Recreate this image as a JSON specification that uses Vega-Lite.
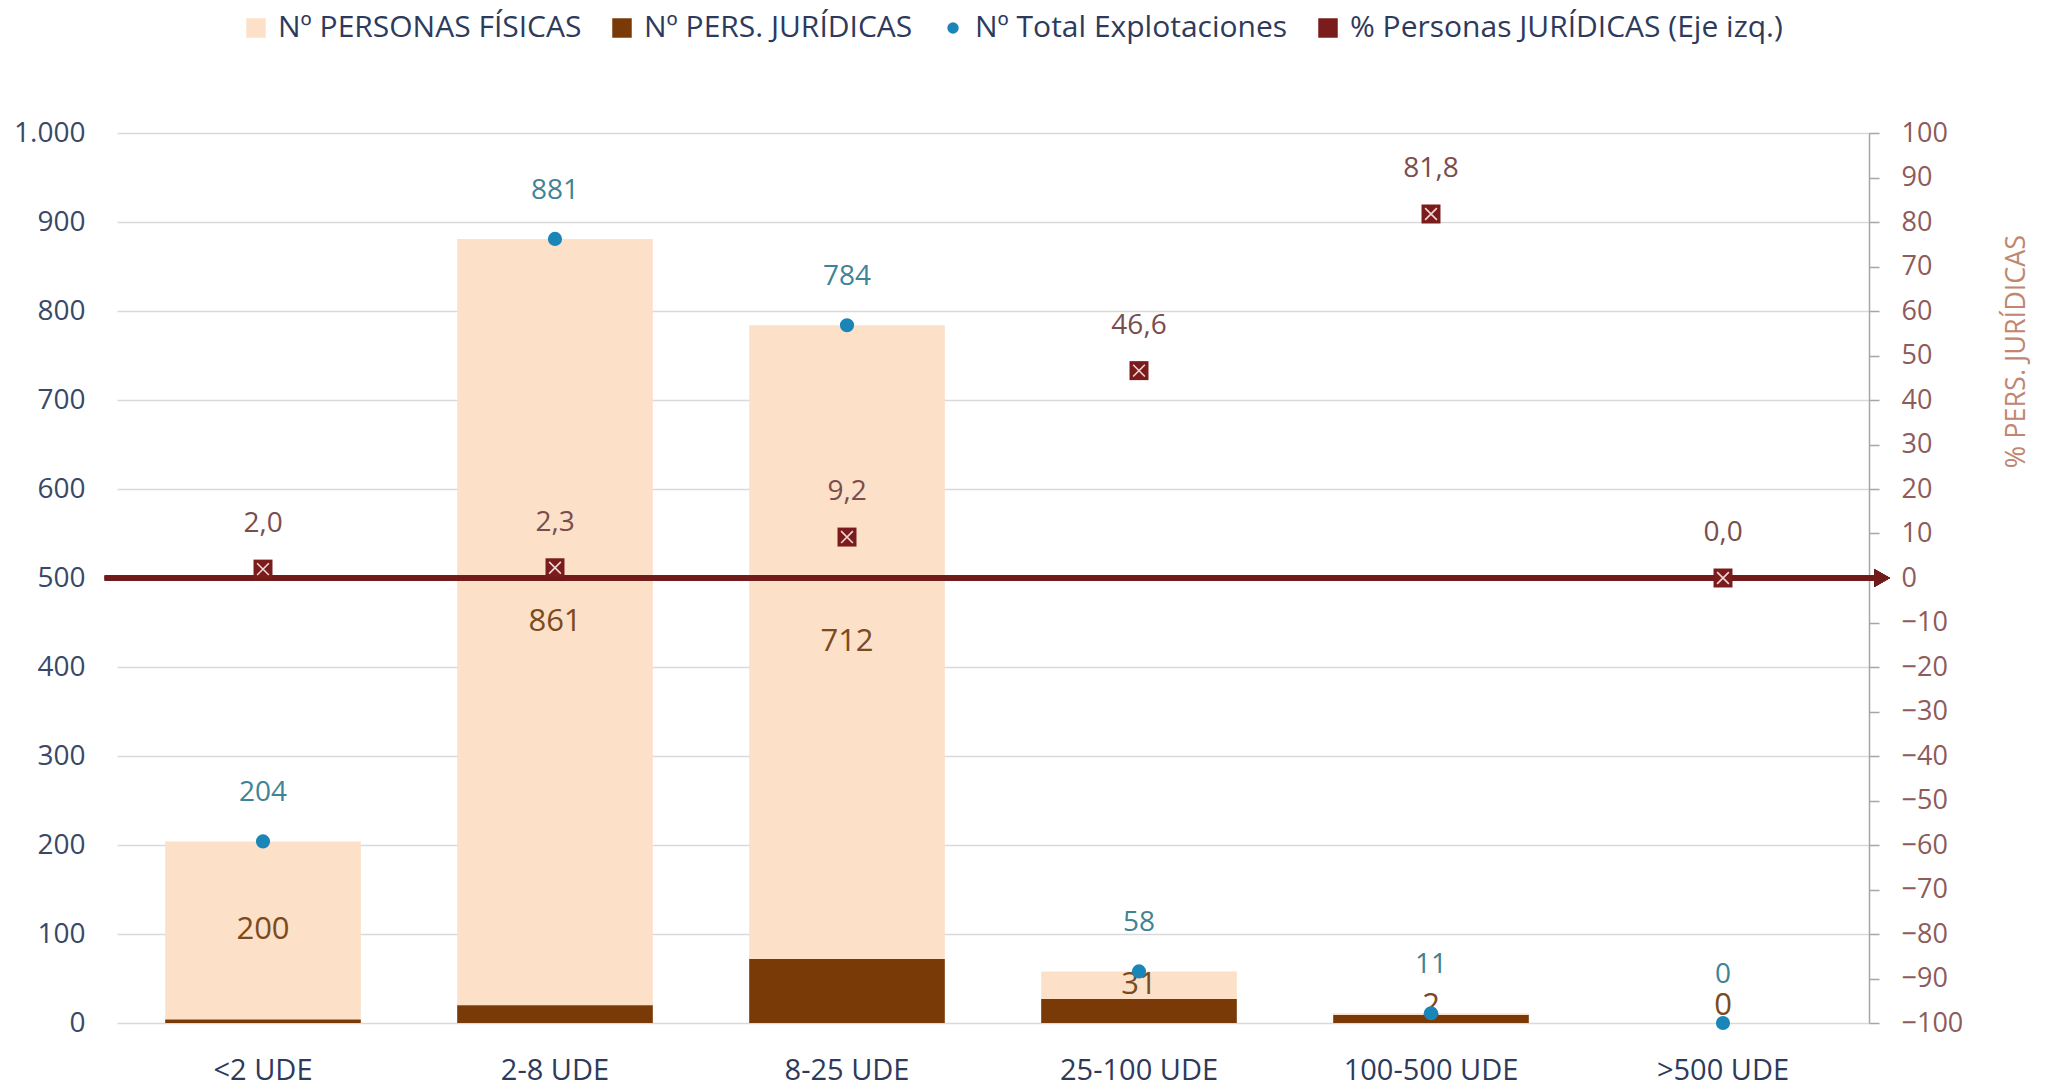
{
  "$schema": "https://vega.github.io/schema/vega-lite/v6.json",
  "width": 1752,
  "height": 890,
  "autosize": {"type": "none"},
  "padding": {"left": 117, "top": 133, "right": 187, "bottom": 64},
  "background": "white",
  "config": {
    "font": "Open Sans",
    "view": {"stroke": null},
    "locale": {
      "number": {"decimal": ",", "thousands": ".", "grouping": [3], "currency": ["", " €"]}
    }
  },
  "data": {
    "values": [
      {"cat": "<2 UDE", "fisicas": 200, "juridicas": 4, "total": 204, "pct": 2.0},
      {"cat": "2-8 UDE", "fisicas": 861, "juridicas": 20, "total": 881, "pct": 2.3},
      {"cat": "8-25 UDE", "fisicas": 712, "juridicas": 72, "total": 784, "pct": 9.2},
      {"cat": "25-100 UDE", "fisicas": 31, "juridicas": 27, "total": 58, "pct": 46.6},
      {"cat": "100-500 UDE", "fisicas": 2, "juridicas": 9, "total": 11, "pct": 81.8},
      {"cat": ">500 UDE", "fisicas": 0, "juridicas": 0, "total": 0, "pct": 0.0}
    ]
  },
  "layer": [
    {
      "encoding": {
        "x": {
          "field": "cat", "type": "nominal", "sort": null,
          "scale": {"paddingInner": 0.33, "paddingOuter": 0.165},
          "axis": {
            "title": null, "domain": false, "ticks": false, "labelAngle": 0,
            "labelFontSize": 29, "labelColor": "#2e3a5c", "labelPadding": 33, "grid": false
          }
        }
      },
      "layer": [
        {
          "mark": {"type": "bar"},
          "encoding": {
            "y": {
              "field": "total", "type": "quantitative",
              "scale": {"domain": [0, 1000]},
              "axis": {
                "title": null, "values": [0,100,200,300,400,500,600,700,800,900,1000],
                "format": ",d", "domain": false, "ticks": false, "labelPadding": 32,
                "labelFontSize": 28, "labelColor": "#3a4868",
                "grid": true, "gridColor": "#d9d9d9", "gridWidth": 1.6
              }
            },
            "y2": {"field": "juridicas"},
            "color": {
              "datum": "Nº PERSONAS FÍSICAS",
              "scale": {
                "domain": ["Nº PERSONAS FÍSICAS", "Nº PERS. JURÍDICAS", "Nº Total Explotaciones", "% Personas JURÍDICAS (Eje izq.)"],
                "range": ["#fce0c8", "#7a3a08", "#1a86b8", "#7b1c1c"]
              },
              "legend": {
                "title": null, "orient": "none", "direction": "horizontal",
                "legendX": 124, "legendY": -120,
                "labelFontSize": 30, "labelColor": "#2e3a5c", "labelOffset": 7, "labelLimit": 0,
                "columnPadding": 25, "symbolSize": 400, "symbolStrokeWidth": 0,
                "symbolType": "square", "padding": 0,
                "encode": {
                  "symbols": {
                    "update": {
                      "shape": {"signal": "datum.value === 'Nº Total Explotaciones' ? 'circle' : 'square'"},
                      "size": {"signal": "datum.value === 'Nº Total Explotaciones' ? 130 : 380"}
                    }
                  }
                }
              }
            }
          }
        },
        {
          "mark": {"type": "bar"},
          "encoding": {
            "y": {"field": "juridicas", "type": "quantitative"},
            "y2": {"datum": 0},
            "color": {"datum": "Nº PERS. JURÍDICAS"}
          }
        },
        {
          "transform": [{"calculate": "max(datum.juridicas + datum.fisicas / 2, 19)", "as": "labpos"}],
          "mark": {"type": "text", "fontSize": 31, "color": "#7b4a1f", "baseline": "middle"},
          "encoding": {
            "y": {"field": "labpos", "type": "quantitative"},
            "text": {"field": "fisicas", "format": "d"}
          }
        },
        {
          "mark": {"type": "point", "shape": "circle", "filled": true, "size": 200, "opacity": 1},
          "encoding": {
            "y": {"field": "total", "type": "quantitative"},
            "color": {"datum": "Nº Total Explotaciones"}
          }
        },
        {
          "mark": {"type": "text", "fontSize": 28, "color": "#3f8396", "baseline": "middle", "dy": -48},
          "encoding": {
            "y": {"field": "total", "type": "quantitative"},
            "text": {"field": "total", "format": "d"}
          }
        }
      ]
    },
    {
      "layer": [
        {
          "layer": [
            {
              "mark": {"type": "rule", "color": "#701a1a", "strokeWidth": 5},
              "encoding": {
                "x": {"datum": -0.007, "type": "quantitative", "scale": {"domain": [0, 1]}, "axis": null},
                "x2": {"datum": 1.004},
                "y": {"datum": 0, "type": "quantitative"}
              }
            },
            {
              "mark": {"type": "point", "shape": "triangle-right", "filled": true, "size": 330, "color": "#701a1a", "opacity": 1},
              "encoding": {
                "x": {"datum": 1.0075, "type": "quantitative", "scale": {"domain": [0, 1]}, "axis": null},
                "y": {"datum": 0, "type": "quantitative"}
              }
            }
          ]
        },
        {
          "encoding": {
            "x": {
              "field": "cat", "type": "nominal", "sort": null,
              "scale": {"paddingInner": 0.33, "paddingOuter": 0.165},
              "axis": null
            }
          },
          "layer": [
            {
              "mark": {"type": "point", "shape": "square", "filled": true, "size": 360, "opacity": 1},
              "encoding": {
                "y": {
                  "field": "pct", "type": "quantitative",
                  "scale": {"domain": [-100, 100]},
                  "axis": {
                    "orient": "right", "values": [-100,-90,-80,-70,-60,-50,-40,-30,-20,-10,0,10,20,30,40,50,60,70,80,90,100],
                    "format": "d", "grid": false,
                    "domain": true, "domainColor": "#a6a6a6", "domainWidth": 1.5,
                    "ticks": true, "tickColor": "#a6a6a6", "tickSize": 10, "tickWidth": 1.5,
                    "labelPadding": 22, "labelFontSize": 27, "labelColor": "#8d5b5b",
                    "title": "% PERS. JURÍDICAS", "titleFontSize": 27, "titleFontWeight": "normal",
                    "titleColor": "#c08670", "titleAngle": 270, "titleX": 147, "titleY": 218,
                    "titleAlign": "center", "titleBaseline": "middle"
                  }
                },
                "color": {"datum": "% Personas JURÍDICAS (Eje izq.)"}
              }
            },
            {
              "mark": {"type": "point", "shape": "M-0.62,-0.62L0.62,0.62M-0.62,0.62L0.62,-0.62", "filled": false, "stroke": "#f3d6d6", "strokeWidth": 1.6, "size": 360, "opacity": 1},
              "encoding": {
                "y": {"field": "pct", "type": "quantitative"}
              }
            },
            {
              "mark": {"type": "text", "fontSize": 28, "color": "#7a4d4d", "baseline": "middle", "dy": -45},
              "encoding": {
                "y": {"field": "pct", "type": "quantitative"},
                "text": {"field": "pct", "format": ".1f"}
              }
            }
          ]
        }
      ],
      "resolve": {"scale": {"x": "independent"}}
    }
  ],
  "resolve": {"scale": {"x": "independent", "y": "independent"}}
}
